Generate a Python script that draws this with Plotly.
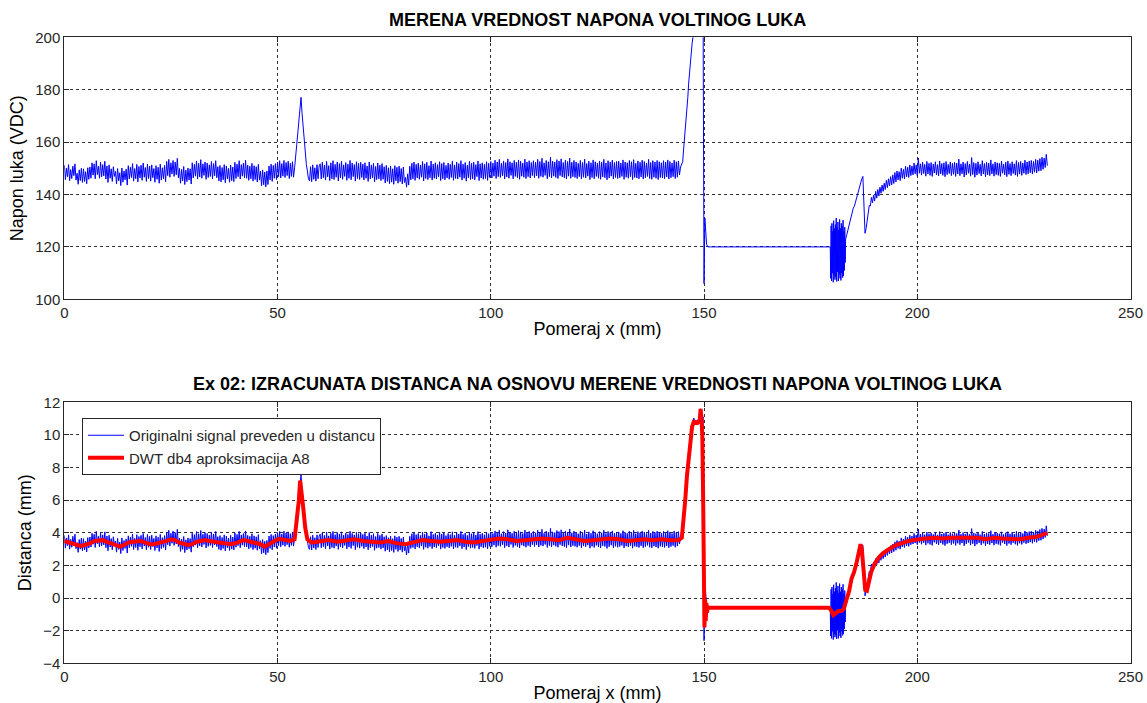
import numpy as np
import plotly.graph_objects as go

# ---------------- data ----------------
# Measured arc voltage (VDC), sampled in segments: start (mm), step (mm), values
volt_a_start, volt_a_step = 0.0, 0.25
volt_a = [
    # 0 - 9.75
    151.2, 145.7, 150.1, 146.8, 151.4, 145.3, 149.5, 146.1, 150.8, 147.2, 151.7, 145.5,
    148.1, 143.9, 149.4, 145.3, 150.0, 144.6, 149.8, 145.0, 148.7, 144.1, 150.2, 145.8,
    150.5, 146.2, 152.1, 147.4, 151.7, 146.0, 152.9, 147.6, 150.8, 146.2, 152.3, 146.7, 151.4, 147.1, 152.7, 145.9,
    # 10 - 19.75
    150.9, 144.6, 151.3, 146.2, 149.8, 145.0, 150.6, 146.9,
    148.8, 144.0, 149.9, 145.2, 148.3, 143.4, 150.1, 144.7, 149.0, 145.6, 149.7, 143.6,
    151.0, 145.9, 150.4, 146.5, 151.8, 145.1, 149.9, 146.0, 151.5, 144.8, 150.7, 146.3, 151.2, 145.4, 152.0, 146.6, 150.3, 145.0, 151.6, 146.1,
    # 20 - 29.75
    150.8, 145.1, 151.3, 146.4, 149.9, 144.7, 151.0, 145.8, 150.4, 144.3, 151.6, 145.5, 150.2, 146.0, 151.1, 144.9,
    152.6, 147.2, 153.4, 146.6, 152.1, 147.8, 153.0, 146.9, 152.4, 147.5, 153.8, 146.4,
    150.0, 144.3, 149.6, 145.2, 150.7, 143.8, 149.3, 144.9, 150.1, 145.5, 149.8, 144.0,
    # 30 - 39.75
    152.1, 146.3, 151.5, 147.0, 152.8, 145.9, 151.9, 146.7, 153.3, 146.2, 151.7, 147.3,
    152.4, 145.8, 152.0, 146.5, 151.3, 146.9, 152.6, 146.0, 151.8, 147.1, 152.9, 146.4,
    150.6, 145.2, 151.1, 144.8, 150.3, 145.6, 151.4, 144.5, 150.9, 145.9, 150.0, 144.7, 151.2, 145.3, 150.5, 144.9,
    # 40 - 49.75
    152.3, 146.1, 151.6, 146.8, 152.9, 145.9, 151.4, 147.0, 152.0, 146.4, 153.1, 146.2,
    151.2, 145.4, 150.8, 146.0, 151.9, 145.1, 151.0, 145.7, 150.6, 144.8, 151.5, 145.5,
    148.9, 143.3, 149.4, 143.7, 148.6, 142.9, 149.0, 143.8,
    150.9, 145.6, 151.6, 145.0, 151.1, 146.2, 151.8, 145.7,
    # 50 - 59.75
    152.4, 146.8, 152.9, 146.3, 151.8, 147.0, 153.0, 146.5, 152.2, 147.2, 152.7, 146.1, 151.9, 146.9, 152.5, 146.6,
    150.2, 153.5, 159.0, 163.5, 168.0, 171.5, 177.1, 171.0, 165.5, 160.0, 155.0, 151.5, 149.0, 146.0,
    145.2, 150.6, 144.9, 151.3, 145.8, 150.2, 145.1, 151.4, 146.0, 150.9,
    # 60 - 69.75
    151.7, 145.9, 152.3, 146.4, 151.2, 145.5, 152.6, 146.7, 151.0, 145.3, 152.1, 146.0, 152.9, 145.7, 151.5, 146.6, 152.4, 145.2, 151.8, 146.3,
    152.7, 145.8, 151.3, 146.9, 152.2, 145.4, 151.6, 146.2, 153.0, 145.6, 152.0, 146.8, 151.4, 145.1, 152.5, 146.1, 151.9, 145.7, 152.3, 146.5,
    # 70 - 79.75
    151.6, 145.5, 152.1, 146.2, 150.9, 145.0, 152.4, 145.9, 151.3, 146.4, 151.9, 144.8, 150.7, 145.7, 152.0, 146.0, 151.2, 145.3, 151.8, 145.8,
    150.6, 144.4, 151.1, 145.0, 150.2, 144.1, 150.9, 144.7, 149.8, 143.9, 151.0, 145.2, 150.4, 144.3, 150.8, 144.9, 149.9, 144.0, 150.5, 144.6,
    # 80 - 89.75
    146.5, 142.8, 147.9, 143.6, 150.8, 145.6, 151.9, 146.0, 152.4, 145.4, 151.5, 146.3, 152.0, 145.8, 151.2, 146.6, 152.6, 145.2, 151.7, 146.1,
    152.3, 145.7, 151.0, 146.4, 152.8, 145.5, 151.6, 146.2, 152.1, 145.9, 151.4, 146.7, 152.5, 145.3, 151.8, 146.0, 152.2, 145.6, 151.1, 146.3,
    # 90 - 99.75
    152.0, 145.8, 151.5, 146.5, 152.7, 145.4, 151.3, 146.1, 152.4, 145.9, 151.8, 146.6, 152.9, 145.5, 151.6, 146.2, 152.2, 145.1, 151.2, 146.4,
    152.6, 145.7, 151.9, 146.0, 152.3, 145.6, 151.4, 146.8, 152.8, 145.3, 151.7, 146.3, 152.1, 145.8, 151.5, 146.1, 152.5, 145.4, 151.9, 146.5,
    # 100 - 109.75
    152.6, 146.3, 152.0, 147.0, 153.1, 146.1, 152.4, 146.8, 153.4, 146.5, 151.9, 147.1, 152.8, 145.9, 152.2, 146.7, 153.6, 146.2, 152.5, 147.3,
    152.1, 146.0, 153.0, 146.9, 152.3, 146.4, 153.2, 145.8, 152.7, 147.0, 152.0, 146.6, 153.5, 146.1, 152.4, 146.8, 152.9, 146.3, 152.2, 147.2,
    # 110 - 119.75
    152.9, 146.4, 152.3, 147.1, 153.4, 146.2, 152.6, 146.9, 153.8, 146.6, 152.1, 147.3, 153.0, 146.0, 152.5, 146.8, 154.2, 146.3, 152.7, 147.0,
    152.4, 146.5, 153.3, 146.1, 152.8, 147.2, 153.6, 146.7, 152.2, 146.4, 153.1, 145.9, 152.6, 147.0, 153.9, 146.2, 152.3, 146.8, 153.0, 146.5,
    # 120 - 129.75
    152.4, 146.1, 151.9, 146.8, 153.0, 145.9, 152.2, 146.6, 153.5, 146.3, 151.8, 147.0, 152.7, 145.7, 152.1, 146.5, 153.2, 146.0, 152.5, 146.9,
    151.9, 146.2, 152.8, 145.8, 152.3, 146.7, 153.4, 146.4, 152.0, 145.6, 152.9, 146.3, 152.4, 147.0, 153.1, 145.9, 152.2, 146.5, 152.6, 146.1,
    # 130 - 139.75
    152.7, 146.4, 152.0, 146.9, 153.2, 145.8, 152.4, 146.6, 152.1, 146.2, 153.0, 146.8, 152.5, 145.7, 153.3, 146.5, 151.9, 146.3, 152.8, 146.0,
    152.3, 146.7, 153.1, 145.9, 152.6, 146.4, 152.0, 146.9, 153.4, 146.1, 152.2, 145.8, 152.9, 146.6, 152.4, 146.2, 153.0, 145.7, 152.5, 146.5,
    # 140 - 144.75
    152.1, 146.3, 152.9, 146.0, 152.4, 146.7, 153.2, 145.9, 152.6, 146.4, 152.0, 146.8, 153.1, 146.1, 152.5, 146.6, 152.8, 147.5, 150.5, 151.5,
]
volt_b_start, volt_b_step = 145.0, 0.2
volt_b = [
    152.5, 157.0, 160.5, 164.5, 169.0, 173.0, 177.0, 182.5, 187.0, 191.0,
    194.5, 197.5, 200.0, 201.5, 200.8, 200.2, 200.5, 200.1, 200.6, 201.5,
    203.0, 205.5, 203.0, 201.0, 202.0, 106.0, 131.0, 124.5, 121.0, 120.2, 120.0,
]
volt_c_start, volt_c_step = 151.5, 2.0
volt_c = [120.0, 120.0, 120.1, 120.0, 120.0, 120.0, 119.9, 120.0, 120.0, 120.1, 120.0, 120.0, 120.0, 120.0, 120.0]
volt_d_start, volt_d_step = 179.6, 0.1
volt_d = [
    120.0, 108.0, 128.0, 107.0, 129.0, 110.0, 126.0, 106.5, 130.0, 109.0,
    127.0, 107.5, 128.5, 108.5, 131.0, 106.8, 127.5, 110.5, 129.5, 107.0,
    126.5, 109.5, 130.5, 108.0, 127.0, 107.2, 129.0, 110.0, 128.0, 108.3,
    130.2, 109.0, 126.0, 111.0, 127.5, 114.0, 123.0,
]
volt_e_start, volt_e_step = 183.5, 0.25
volt_e = [
    124.8, 126.5, 128.2, 130.0, 132.3, 134.0, 134.8, 135.5, 137.0, 139.2, 140.5,
    142.0, 143.4, 144.8, 146.0, 146.9, 133.0, 125.2, 127.0, 129.5, 132.5, 135.8,
]
volt_f_start, volt_f_step = 189.0, 0.25
volt_f = [
    135.6, 138.9, 136.8, 139.7, 137.5, 141.2, 138.6, 141.9, 139.4, 142.8, 140.5, 143.6, 141.2, 144.3, 141.9, 145.4, 142.6, 146.0, 143.3, 146.8,
    143.6, 147.5, 144.2, 148.4, 144.8, 149.0, 145.6, 148.7, 145.3, 150.1, 146.2, 149.6, 146.0, 150.8, 146.7, 150.4, 146.5, 151.3, 147.2, 150.9,
    147.5, 152.0, 147.9, 151.3, 147.2, 153.9, 148.1, 151.7, 147.4, 152.3, 148.0, 151.5, 147.0, 152.6, 147.8, 151.9, 147.3, 152.2, 146.9, 151.6,
    148.2, 152.5, 147.5, 151.4, 147.1, 152.8, 147.9, 151.8, 147.3, 152.1, 146.8, 152.6, 147.6, 151.5, 148.0, 152.4, 147.2, 151.9, 147.7, 152.3,
    146.9, 152.0, 147.8, 153.5, 147.2, 151.7, 147.9, 152.4, 146.7, 151.8, 147.5, 152.6, 148.1, 151.6, 147.0, 154.1, 147.6, 152.2, 146.6, 151.9,
    147.4, 152.5, 148.0, 151.5, 147.1, 152.9, 147.8, 151.8, 146.8, 152.3, 147.5, 152.0, 147.2, 153.2, 147.9, 151.7, 147.0, 152.4, 147.6, 152.1,
    147.3, 151.9, 146.9, 152.7, 148.1, 151.6, 147.5, 152.3, 146.8, 152.8, 147.7, 151.8, 147.2, 152.5, 148.0, 151.7, 147.4, 152.9, 146.9, 152.2,
    147.8, 152.6, 147.3, 152.0, 148.1, 153.1, 147.6, 152.4, 147.9, 152.8, 148.3, 153.0, 147.8, 152.6, 148.5, 153.4, 148.2, 153.1, 148.9, 153.7,
    149.1, 154.2, 149.6, 153.9, 150.3, 155.3, 151.0,
]

# voltage -> distance calibration (120 V -> -0.6 mm, 148.5 V -> 3.5 mm)
calib_v0 = 124.3
calib_k = 7.0

# DWT db4 approximation A8 (distance, mm)
a8_x = [0, 1, 2, 3, 4, 5, 6, 7, 8, 9, 10, 11, 12, 13, 14, 15, 16, 17, 18, 19, 20, 21, 22, 23, 24, 25, 26, 27, 28, 29,
        30, 31, 32, 33, 34, 35, 36, 37, 38, 39, 40, 41, 42, 43, 44, 45, 46, 47, 48, 49, 50, 51, 52, 53, 54,
        54.5, 55, 55.3, 55.6, 56, 56.5, 57, 58, 59, 60, 62, 64, 66, 68, 70, 72, 74, 76, 78, 80, 82, 84, 86, 88,
        90, 92, 94, 96, 98, 100, 102, 104, 106, 108, 110, 112, 114, 116, 118, 120, 122, 124, 126, 128, 130,
        132, 134, 136, 138, 140, 142, 144, 144.8, 145.2, 145.6, 146, 146.4, 146.8, 147.2, 147.6, 148, 148.5,
        149, 149.2, 149.4, 149.6, 149.8, 150.0, 150.1, 150.25, 150.4, 150.55, 150.7, 150.9, 151.2, 179.3,
        179.8, 180.3, 180.8, 181.5, 182.2, 182.8, 183.3, 184, 184.6, 185.2, 185.8, 186.3, 186.7, 187, 187.4,
        187.8, 188.2, 188.6, 189.2, 190, 191, 192, 193, 194, 195, 196, 197, 198, 199, 200, 202, 204, 206,
        208, 210, 212, 214, 216, 218, 220, 222, 224, 226, 228, 229, 230, 230.5]
a8_y = [3.5, 3.4, 3.3, 3.25, 3.2, 3.25, 3.35, 3.5, 3.55, 3.55, 3.45, 3.35, 3.2, 3.15, 3.25, 3.4, 3.45, 3.45, 3.5, 3.4,
        3.3, 3.3, 3.35, 3.4, 3.5, 3.6, 3.55, 3.4, 3.3, 3.25, 3.3, 3.45, 3.5, 3.55, 3.5, 3.45, 3.4, 3.35, 3.3, 3.3,
        3.35, 3.45, 3.55, 3.5, 3.45, 3.4, 3.3, 3.15, 3.3, 3.5, 3.6, 3.6, 3.55, 3.5, 3.6,
        4.6, 6.0, 7.2, 6.6, 5.6, 4.3, 3.6, 3.4, 3.45, 3.5, 3.55, 3.45, 3.5, 3.6, 3.5, 3.45, 3.4, 3.5, 3.35, 3.3,
        3.45, 3.55, 3.5, 3.45, 3.5, 3.55, 3.45, 3.4, 3.5, 3.55, 3.65, 3.6, 3.5, 3.55, 3.6, 3.65, 3.6, 3.55, 3.7,
        3.6, 3.5, 3.55, 3.6, 3.65, 3.6, 3.5, 3.55, 3.6, 3.55, 3.6, 3.55, 3.55, 3.7, 4.6, 6.0, 7.5, 8.7, 9.8, 10.5,
        10.8, 10.8, 10.75, 10.9, 11.6, 11.0, 10.0, 6.0, 0.8, -1.8, -0.1, -1.4, -0.3, -0.9, -0.55, -0.6, -0.6,
        -0.75, -1.05, -0.95, -0.8, -0.8, -0.65, -0.2, 0.4, 1.2, 1.6, 2.2, 2.7, 3.3, 3.0, 1.6,
        0.5, 0.45, 1.0, 1.6, 2.1, 2.5, 2.75, 2.95, 3.1, 3.25, 3.35, 3.45, 3.5, 3.55, 3.6, 3.65, 3.7, 3.65,
        3.7, 3.7, 3.65, 3.7, 3.6, 3.7, 3.65, 3.65, 3.6, 3.7, 3.75, 3.85, 3.95, 4.0]

x_ticks = [0, 50, 100, 150, 200, 250]
top_y_ticks = [100, 120, 140, 160, 180, 200]
bottom_y_ticks = [-4, -2, 0, 2, 4, 6, 8, 10, 12]

# ---------------- assemble sample positions ----------------
segments = [
    (volt_a_start, volt_a_step, volt_a),
    (volt_b_start, volt_b_step, volt_b),
    (volt_c_start, volt_c_step, volt_c),
    (volt_d_start, volt_d_step, volt_d),
    (volt_e_start, volt_e_step, volt_e),
    (volt_f_start, volt_f_step, volt_f),
]
pos_x = np.concatenate([s + st * np.arange(len(v)) for s, st, v in segments])
volt = np.concatenate([np.array(v, dtype=float) for _, _, v in segments])
dist = (volt - calib_v0) / calib_k

W, H = 1147, 703
FONT = "Liberation Sans, Arial, Helvetica, sans-serif"

def px_x(p):
    return p / W

def px_y(p):
    return 1 - p / H

fig = go.Figure()
fig.add_trace(go.Scatter(x=pos_x, y=volt, mode="lines", line=dict(color="#0000ff", width=1),
                         showlegend=False, xaxis="x", yaxis="y"))
fig.add_trace(go.Scatter(x=pos_x, y=dist, mode="lines", line=dict(color="#0000ff", width=1),
                         name="Originalni signal preveden u distancu", xaxis="x2", yaxis="y2"))
fig.add_trace(go.Scatter(x=a8_x, y=a8_y, mode="lines", line=dict(color="#ff0000", width=4),
                         name="DWT db4 aproksimacija A8", xaxis="x2", yaxis="y2"))

axis_common = dict(
    showline=True, linecolor="#262626", linewidth=1, mirror="ticks",
    ticks="inside", ticklen=5, tickcolor="#262626",
    showgrid=True, gridcolor="#303030", gridwidth=1, griddash="3px,3px",
    zeroline=False, automargin=False,
    tickfont=dict(family=FONT, size=15, color="#262626"),
)

x_dom = [px_x(64.3), px_x(1130.5)]
fig.update_layout(
    width=W, height=H,
    margin=dict(l=0, r=0, t=0, b=0),
    paper_bgcolor="white", plot_bgcolor="white",
    font=dict(family=FONT, color="#000000"),
    xaxis=dict(domain=x_dom, anchor="y", range=[0, 250], tickvals=x_ticks,
               title=dict(text="Pomeraj x (mm)", font=dict(size=18, family=FONT), standoff=2),
               **axis_common),
    yaxis=dict(domain=[px_y(299.3), px_y(37.3)], anchor="x", range=[100, 200], tickvals=top_y_ticks,
               title=dict(text="Napon luka (VDC)", font=dict(size=18, family=FONT), standoff=6),
               **axis_common),
    xaxis2=dict(domain=x_dom, anchor="y2", range=[0, 250], tickvals=x_ticks,
                title=dict(text="Pomeraj x (mm)", font=dict(size=18, family=FONT), standoff=2),
                **axis_common),
    yaxis2=dict(domain=[px_y(663.3), px_y(402.3)], anchor="x2", range=[-4, 12], tickvals=bottom_y_ticks,
                title=dict(text="Distanca (mm)", font=dict(size=18, family=FONT), standoff=6),
                **axis_common),
    legend=dict(x=px_x(82), y=px_y(418), xanchor="left", yanchor="top",
                bgcolor="white", bordercolor="#262626", borderwidth=1,
                font=dict(family=FONT, size=15, color="#262626"),
                tracegroupgap=0, itemwidth=36),
    annotations=[
        dict(text="<b>MERENA VREDNOST NAPONA VOLTINOG LUKA</b>", x=0.5 * (x_dom[0] + x_dom[1]), y=px_y(20),
             xref="paper", yref="paper", xanchor="center", yanchor="middle", showarrow=False,
             font=dict(family=FONT, size=18, color="#000000")),
        dict(text="<b>Ex 02: IZRACUNATA DISTANCA NA OSNOVU MERENE VREDNOSTI NAPONA VOLTINOG LUKA</b>",
             x=0.5 * (x_dom[0] + x_dom[1]), y=px_y(384),
             xref="paper", yref="paper", xanchor="center", yanchor="middle", showarrow=False,
             font=dict(family=FONT, size=18, color="#000000")),
    ],
)

fig.write_html("out.html")
